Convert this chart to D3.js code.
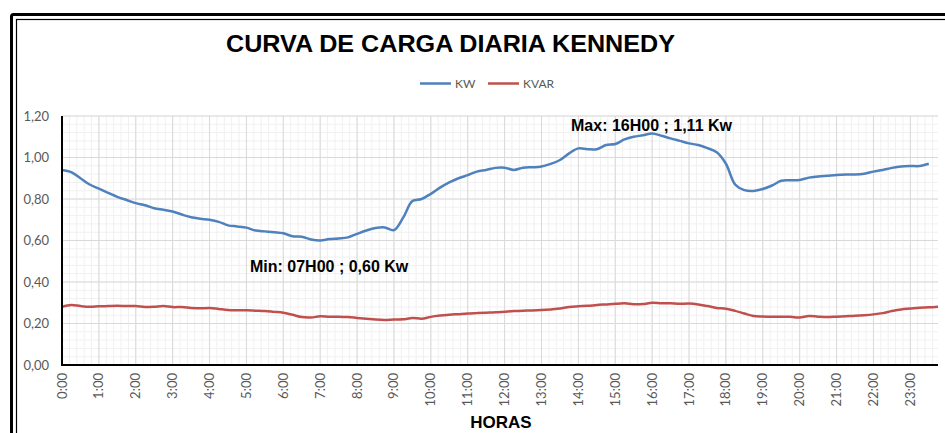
<!DOCTYPE html>
<html>
<head>
<meta charset="utf-8">
<script src="https://cdn.jsdelivr.net/npm/d3@7.9.0/dist/d3.min.js"></script>
<style>
  body { margin: 0; background: #fff; }
  svg { display: block; }
  .tick-label { font-family: Lato, "Open Sans", sans-serif; font-size: 13px; fill: #595959; }
  .bold { font-family: "Liberation Sans", Arial, sans-serif; font-weight: bold; fill: #000; }
</style>
</head>
<body>
<svg id="chart" width="945" height="433"></svg>
<script>
// readings every 15 minutes, 0:00 .. 23:45
const hourLabels = ['0:00','1:00','2:00','3:00','4:00','5:00','6:00','7:00','8:00','9:00','10:00','11:00',
  '12:00','13:00','14:00','15:00','16:00','17:00','18:00','19:00','20:00','21:00','22:00','23:00'];
const yTicks = [0, 0.2, 0.4, 0.6, 0.8, 1.0, 1.2];

const kw = [
  0.94, 0.93, 0.90, 0.87,   0.85, 0.83, 0.81, 0.795,   0.78, 0.77, 0.755, 0.748,
  0.74, 0.725, 0.712, 0.705,   0.70, 0.69, 0.673, 0.668,   0.662, 0.648, 0.644, 0.64,
  0.635, 0.62, 0.618, 0.605,   0.60, 0.607, 0.61, 0.615,   0.632, 0.648, 0.66, 0.663,
  0.65, 0.71, 0.79, 0.80,   0.825, 0.855, 0.88, 0.90,   0.915, 0.932, 0.94, 0.95,
  0.951, 0.94, 0.951, 0.953,   0.957, 0.969, 0.988, 1.02,   1.044, 1.04, 1.04, 1.06,
  1.065, 1.087, 1.10, 1.107,   1.116, 1.105, 1.092, 1.08,   1.068, 1.06, 1.045, 1.025,
  0.97, 0.87, 0.843, 0.839,   0.848, 0.865, 0.888, 0.89,   0.892, 0.903, 0.908, 0.912,
  0.916, 0.918, 0.918, 0.922,   0.932, 0.94, 0.95, 0.957,   0.959, 0.959, 0.97, null
];
const kvar = [
  0.281, 0.289, 0.284, 0.281,   0.283, 0.284, 0.285, 0.284,   0.284, 0.28, 0.281, 0.284,
  0.279, 0.279, 0.275, 0.273,   0.275, 0.27, 0.265, 0.264,   0.264, 0.262, 0.26, 0.256,
  0.252, 0.242, 0.231, 0.229,   0.235, 0.233, 0.233, 0.231,   0.227, 0.223, 0.219, 0.217,
  0.219, 0.22, 0.227, 0.223,   0.232, 0.238, 0.242, 0.245,   0.248, 0.25, 0.252, 0.254,
  0.257, 0.26, 0.262, 0.263,   0.265, 0.268, 0.272, 0.28,   0.283, 0.285, 0.289, 0.292,
  0.295, 0.297, 0.293, 0.294,   0.30, 0.298, 0.297, 0.295,   0.296, 0.292, 0.284, 0.275,
  0.271, 0.261, 0.248, 0.236,   0.234, 0.233, 0.233, 0.232,   0.229, 0.236, 0.233, 0.231,
  0.233, 0.235, 0.237, 0.24,   0.244, 0.25, 0.26, 0.268,   0.272, 0.276, 0.278, 0.281
];

const svg = d3.select('#chart');
const plotL = 62, plotR = 938, plotT = 116, plotB = 365;

// double frame
svg.append('rect').attr('x', 11.5).attr('y', 14.5).attr('width', 1000).attr('height', 500)
  .attr('rx', 2).attr('fill', 'none').attr('stroke', '#000').attr('stroke-width', 3);
svg.append('rect').attr('x', 16.5).attr('y', 19.5).attr('width', 1000).attr('height', 500)
  .attr('fill', 'none').attr('stroke', '#000').attr('stroke-width', 1.2);

const x = d3.scaleLinear().domain([0, 23.75]).range([plotL, plotR]);
const y = d3.scaleLinear().domain([0, 1.2]).range([plotB, plotT]);

// grid: minor every 12 min / 0.04, major every hour / 0.2
const g = svg.append('g');
g.selectAll('.vminor').data(d3.range(0, 23.75 + 1e-9, 0.2)).join('line')
  .attr('x1', d => x(d)).attr('x2', d => x(d)).attr('y1', plotT).attr('y2', plotB)
  .attr('stroke', '#f0f0f0').attr('stroke-width', 1);
g.selectAll('.hminor').data(d3.range(0, 1.2001, 0.04)).join('line')
  .attr('x1', plotL).attr('x2', plotR).attr('y1', d => y(d)).attr('y2', d => y(d))
  .attr('stroke', '#f0f0f0').attr('stroke-width', 1);
g.selectAll('.vmajor').data(hourLabels).join('line')
  .attr('x1', (d, i) => x(i)).attr('x2', (d, i) => x(i)).attr('y1', plotT).attr('y2', plotB)
  .attr('stroke', '#d9d9d9').attr('stroke-width', 1);
g.selectAll('.hmajor').data(yTicks).join('line')
  .attr('x1', plotL).attr('x2', plotR).attr('y1', d => y(d)).attr('y2', d => y(d))
  .attr('stroke', '#d9d9d9').attr('stroke-width', 1);

// y axis labels
svg.append('g').selectAll('text').data(yTicks).join('text')
  .attr('class', 'tick-label')
  .attr('x', 49).attr('y', d => y(d) + 4.5).attr('text-anchor', 'end')
  .text(d => d3.format('.2f')(d).replace('.', ','));

// x axis labels, rotated
svg.append('g').selectAll('text').data(hourLabels).join('text')
  .attr('class', 'tick-label')
  .attr('transform', (d, i) => `translate(${x(i) + 4.5},373) rotate(-90)`)
  .attr('text-anchor', 'end')
  .text(d => d);

// series
const line = d3.line()
  .defined(d => d != null)
  .x((d, i) => x(i * 0.25))
  .y(d => y(d))
  .curve(d3.curveCatmullRom.alpha(0.5));

svg.append('path').datum(kvar).attr('d', line)
  .attr('fill', 'none').attr('stroke', '#c0504d').attr('stroke-width', 2.5);
svg.append('path').datum(kw).attr('d', line)
  .attr('fill', 'none').attr('stroke', '#4f81bd').attr('stroke-width', 2.5);

// axes lines
svg.append('line').attr('x1', plotL).attr('x2', plotL).attr('y1', plotT).attr('y2', plotB + 1)
  .attr('stroke', '#000').attr('stroke-width', 2);
svg.append('line').attr('x1', plotL).attr('x2', plotR).attr('y1', plotB).attr('y2', plotB)
  .attr('stroke', '#000').attr('stroke-width', 2);

// title
svg.append('text').attr('class', 'bold').attr('x', 450.5).attr('y', 52)
  .attr('text-anchor', 'middle').style('font-size', '23px')
  .attr('textLength', 449).attr('lengthAdjust', 'spacingAndGlyphs')
  .text('CURVA DE CARGA DIARIA KENNEDY');

// legend
const legend = [['KW', '#4f81bd', 420], ['KVAR', '#c0504d', 488]];
legend.forEach(([name, col, lx]) => {
  svg.append('line').attr('x1', lx).attr('x2', lx + 31).attr('y1', 83.5).attr('y2', 83.5)
    .attr('stroke', col).attr('stroke-width', 2.5);
  svg.append('text').attr('class', 'tick-label').attr('x', lx + 35).attr('y', 88)
    .style('font-size', '12px').text(name);
});

// annotations
svg.append('text').attr('class', 'bold').attr('x', 571).attr('y', 131)
  .style('font-size', '16px').text('Max: 16H00 ; 1,11 Kw');
svg.append('text').attr('class', 'bold').attr('x', 250).attr('y', 272)
  .style('font-size', '16px').text('Min: 07H00 ; 0,60 Kw');

// x axis title
svg.append('text').attr('class', 'bold').attr('x', 501).attr('y', 428)
  .attr('text-anchor', 'middle').style('font-size', '17px').text('HORAS');
</script>
</body>
</html>
